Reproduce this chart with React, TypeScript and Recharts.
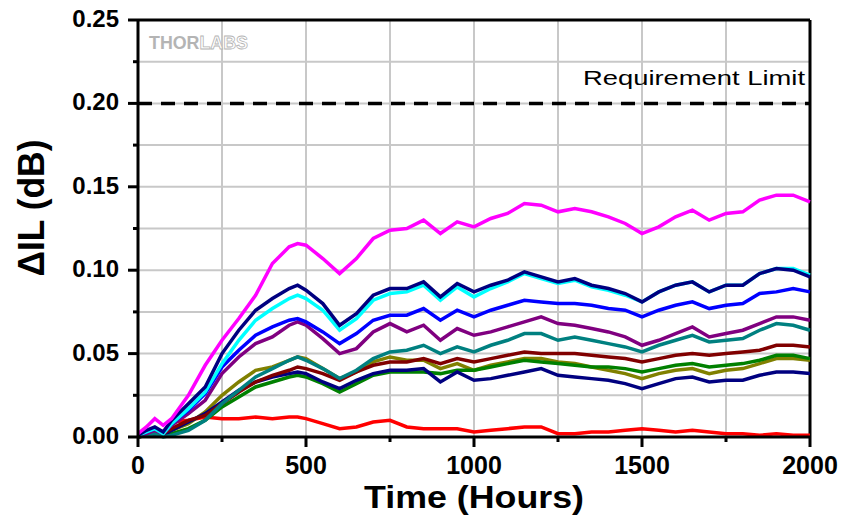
import { LineChart, Line, XAxis, YAxis, CartesianGrid, ReferenceLine } from 'recharts'

document.body.style.margin = '0'

const hours = [0, 25, 50, 75, 100, 150, 200, 250, 300, 350, 400, 450, 475, 500, 550, 600, 650, 700, 750, 800, 850, 900, 950, 1000, 1050, 1100, 1150, 1200, 1250, 1300, 1350, 1400, 1450, 1500, 1550, 1600, 1650, 1700, 1750, 1800, 1850, 1900, 1950, 2000]

const magenta = [0.002, 0.006, 0.011, 0.007, 0.011, 0.025, 0.043, 0.058, 0.071, 0.085, 0.104, 0.114, 0.116, 0.115, 0.107, 0.098, 0.107, 0.119, 0.124, 0.125, 0.130, 0.122, 0.129, 0.126, 0.131, 0.134, 0.140, 0.139, 0.135, 0.137, 0.135, 0.132, 0.128, 0.122, 0.126, 0.132, 0.136, 0.130, 0.134, 0.135, 0.142, 0.145, 0.145, 0.141]
const navyTop = [0.001, 0.004, 0.006, 0.003, 0.010, 0.020, 0.030, 0.050, 0.064, 0.076, 0.083, 0.089, 0.091, 0.088, 0.080, 0.067, 0.074, 0.085, 0.089, 0.089, 0.093, 0.084, 0.092, 0.087, 0.091, 0.094, 0.099, 0.096, 0.093, 0.095, 0.091, 0.089, 0.086, 0.081, 0.087, 0.091, 0.093, 0.087, 0.091, 0.091, 0.098, 0.101, 0.100, 0.096]
const cyan = [0.001, 0.003, 0.005, 0.002, 0.008, 0.017, 0.027, 0.044, 0.058, 0.070, 0.077, 0.083, 0.085, 0.083, 0.076, 0.064, 0.071, 0.082, 0.086, 0.087, 0.091, 0.082, 0.090, 0.084, 0.089, 0.093, 0.098, 0.095, 0.092, 0.094, 0.090, 0.088, 0.085, 0.081, 0.087, 0.091, 0.093, 0.087, 0.091, 0.091, 0.098, 0.101, 0.101, 0.097]
const blue = [0.001, 0.003, 0.005, 0.003, 0.008, 0.016, 0.026, 0.042, 0.052, 0.061, 0.066, 0.070, 0.071, 0.069, 0.063, 0.056, 0.062, 0.070, 0.073, 0.073, 0.077, 0.070, 0.076, 0.072, 0.076, 0.079, 0.082, 0.081, 0.080, 0.080, 0.079, 0.077, 0.076, 0.072, 0.076, 0.079, 0.081, 0.077, 0.079, 0.080, 0.086, 0.087, 0.089, 0.087]
const purple = [0.001, 0.002, 0.004, 0.002, 0.007, 0.014, 0.022, 0.038, 0.048, 0.056, 0.060, 0.067, 0.069, 0.067, 0.059, 0.050, 0.053, 0.063, 0.068, 0.063, 0.067, 0.058, 0.065, 0.061, 0.063, 0.066, 0.069, 0.072, 0.068, 0.067, 0.065, 0.063, 0.060, 0.055, 0.058, 0.062, 0.066, 0.060, 0.062, 0.064, 0.068, 0.072, 0.072, 0.070]
const teal = [0.000, 0.001, 0.002, 0.000, 0.001, 0.004, 0.010, 0.020, 0.028, 0.036, 0.041, 0.046, 0.048, 0.046, 0.041, 0.035, 0.040, 0.047, 0.051, 0.052, 0.055, 0.050, 0.054, 0.051, 0.055, 0.058, 0.062, 0.062, 0.058, 0.060, 0.058, 0.056, 0.054, 0.051, 0.055, 0.058, 0.061, 0.057, 0.058, 0.059, 0.064, 0.068, 0.067, 0.064]
const maroon = [0.000, 0.001, 0.002, 0.002, 0.005, 0.010, 0.013, 0.020, 0.027, 0.033, 0.037, 0.040, 0.042, 0.041, 0.038, 0.034, 0.039, 0.043, 0.045, 0.045, 0.047, 0.044, 0.047, 0.045, 0.047, 0.049, 0.051, 0.050, 0.050, 0.050, 0.049, 0.048, 0.047, 0.045, 0.047, 0.049, 0.050, 0.049, 0.050, 0.051, 0.052, 0.055, 0.055, 0.054]
const olive = [0.000, 0.001, 0.001, 0.001, 0.004, 0.008, 0.015, 0.025, 0.033, 0.040, 0.042, 0.046, 0.048, 0.047, 0.041, 0.035, 0.039, 0.045, 0.048, 0.046, 0.046, 0.041, 0.044, 0.040, 0.043, 0.045, 0.047, 0.047, 0.045, 0.044, 0.042, 0.040, 0.038, 0.035, 0.038, 0.040, 0.041, 0.038, 0.040, 0.041, 0.044, 0.047, 0.047, 0.046]
const green = [0.000, 0.002, 0.003, 0.001, 0.002, 0.005, 0.010, 0.018, 0.024, 0.030, 0.033, 0.036, 0.037, 0.036, 0.032, 0.027, 0.032, 0.037, 0.039, 0.039, 0.039, 0.038, 0.040, 0.040, 0.042, 0.044, 0.046, 0.045, 0.044, 0.043, 0.042, 0.042, 0.041, 0.039, 0.041, 0.043, 0.044, 0.042, 0.043, 0.044, 0.046, 0.049, 0.049, 0.047]
const navyLow = [0.000, 0.001, 0.002, 0.001, 0.004, 0.009, 0.014, 0.021, 0.028, 0.033, 0.036, 0.038, 0.039, 0.038, 0.033, 0.029, 0.034, 0.038, 0.040, 0.040, 0.041, 0.033, 0.039, 0.034, 0.035, 0.037, 0.039, 0.041, 0.037, 0.036, 0.035, 0.034, 0.032, 0.029, 0.032, 0.035, 0.036, 0.033, 0.034, 0.034, 0.037, 0.039, 0.039, 0.038]
const red = [0.000, 0.002, 0.004, 0.003, 0.009, 0.010, 0.012, 0.011, 0.011, 0.012, 0.011, 0.012, 0.012, 0.011, 0.008, 0.005, 0.006, 0.009, 0.010, 0.006, 0.005, 0.005, 0.005, 0.003, 0.004, 0.005, 0.006, 0.006, 0.002, 0.002, 0.003, 0.003, 0.004, 0.005, 0.004, 0.003, 0.004, 0.003, 0.002, 0.002, 0.001, 0.002, 0.001, 0.001]

const xTicks = [0, 250, 500, 750, 1000, 1250, 1500, 1750, 2000]
const yTicks = [0, 0.025, 0.05, 0.075, 0.1, 0.125, 0.15, 0.175, 0.2, 0.225, 0.25]
const requirementLimit = 0.2

// drawing order: first is at the bottom
const series = [
  { key: 'red', values: red, color: '#ff0000' },
  { key: 'olive', values: olive, color: '#808000' },
  { key: 'green', values: green, color: '#008000' },
  { key: 'navyLow', values: navyLow, color: '#000080' },
  { key: 'maroon', values: maroon, color: '#800000' },
  { key: 'teal', values: teal, color: '#008080' },
  { key: 'purple', values: purple, color: '#800080' },
  { key: 'blue', values: blue, color: '#0000ff' },
  { key: 'cyan', values: cyan, color: '#00ffff' },
  { key: 'navyTop', values: navyTop, color: '#000080' },
  { key: 'magenta', values: magenta, color: '#ff00ff' },
]

const chartData = hours.map((h, i) => {
  const row: any = { hours: h }
  series.forEach(s => { row[s.key] = s.values[i] })
  return row
})

const FONT = 'Arial, "Liberation Sans", Helvetica, sans-serif'

const XTick = ({ x, y, payload }: any) => {
  const major = payload.value % 500 === 0
  return (
    <g>
      <line x1={x} y1={y} x2={x} y2={y + (major ? 10 : 5)} stroke="#000" strokeWidth={3} />
      {major && (
        <text x={x} y={y + 37} textAnchor="middle" fontFamily={FONT} fontWeight="bold" fontSize={25} fill="#000">
          {payload.value}
        </text>
      )}
    </g>
  )
}

const YTick = ({ x, y, payload }: any) => {
  const major = Math.round(payload.value * 1000) % 50 === 0
  return (
    <g>
      <line x1={x - (major ? 10 : 5)} y1={y} x2={x} y2={y} stroke="#000" strokeWidth={3} />
      {major && (
        <text x={x - 19} y={y + 7} textAnchor="end" fontFamily={FONT} fontWeight="bold" fontSize={24} fill="#000">
          {payload.value.toFixed(2)}
        </text>
      )}
    </g>
  )
}

const XTitle = (props: any) => {
  const vb = props.viewBox
  return (
    <text x={vb.x + vb.width / 2} y={vb.y + 71} textAnchor="middle" fontFamily={FONT} fontWeight="bold" fontSize={32}
      textLength={220} lengthAdjust="spacingAndGlyphs" fill="#000">
      Time (Hours)
    </text>
  )
}

const YTitle = () => (
  <text x={44} y={208} transform="rotate(-90, 44, 208)" textAnchor="middle" fontFamily={FONT} fontWeight="bold"
    fontSize={36} textLength={137} lengthAdjust="spacingAndGlyphs" fill="#000">
    ΔIL (dB)
  </text>
)

const LimitLabel = (props: any) => {
  const vb = props.viewBox
  return (
    <text x={vb.x + vb.width - 5} y={vb.y - 18} textAnchor="end" fontFamily={FONT} fontSize={21}
      textLength={222} lengthAdjust="spacingAndGlyphs" fill="#000">
      Requirement Limit
    </text>
  )
}

const Watermark = (props: any) => {
  const vb = props.viewBox
  return (
    <text x={vb.x + 11} y={vb.y + 29} fontFamily={FONT} fontWeight="bold" fontSize={18}
      textLength={99} lengthAdjust="spacingAndGlyphs">
      <tspan fill="#b4b4b4">THOR</tspan>
      <tspan fill="#ffffff" stroke="#b4b4b4" strokeWidth={0.8}>LABS</tspan>
    </text>
  )
}

const App = () => {
  return (
    <div style={{ width: 844, height: 523, background: '#fff' }}>
      <LineChart width={844} height={523} data={chartData} margin={{ top: 20, right: 34, bottom: 0, left: 0 }}>
        <CartesianGrid stroke="#c8c8c8" strokeWidth={2} />
        <XAxis
          dataKey="hours"
          type="number"
          domain={[0, 2000]}
          ticks={xTicks}
          interval={0}
          height={86}
          tickSize={0}
          tickMargin={0}
          tickLine={false}
          tick={<XTick />}
          axisLine={{ stroke: '#000', strokeWidth: 3 }}
          label={{ content: XTitle }}
        />
        <YAxis
          type="number"
          domain={[0, 0.25]}
          ticks={yTicks}
          interval={0}
          width={138}
          tickSize={0}
          tickMargin={0}
          tickLine={false}
          tick={<YTick />}
          axisLine={{ stroke: '#000', strokeWidth: 3 }}
          label={{ content: YTitle }}
        />
        <ReferenceLine y={0.25} stroke="#000" strokeWidth={3} label={{ content: Watermark }} />
        <ReferenceLine x={2000} stroke="#000" strokeWidth={3} />
        <ReferenceLine y={requirementLimit} stroke="#000" strokeWidth={3.5} strokeDasharray="14 9" label={{ content: LimitLabel }} />
        {series.map(s => (
          <Line
            key={s.key}
            dataKey={s.key}
            type="linear"
            stroke={s.color}
            strokeWidth={3.5}
            dot={false}
            activeDot={false}
            isAnimationActive={false}
          />
        ))}
      </LineChart>
    </div>
  )
}

export default App
